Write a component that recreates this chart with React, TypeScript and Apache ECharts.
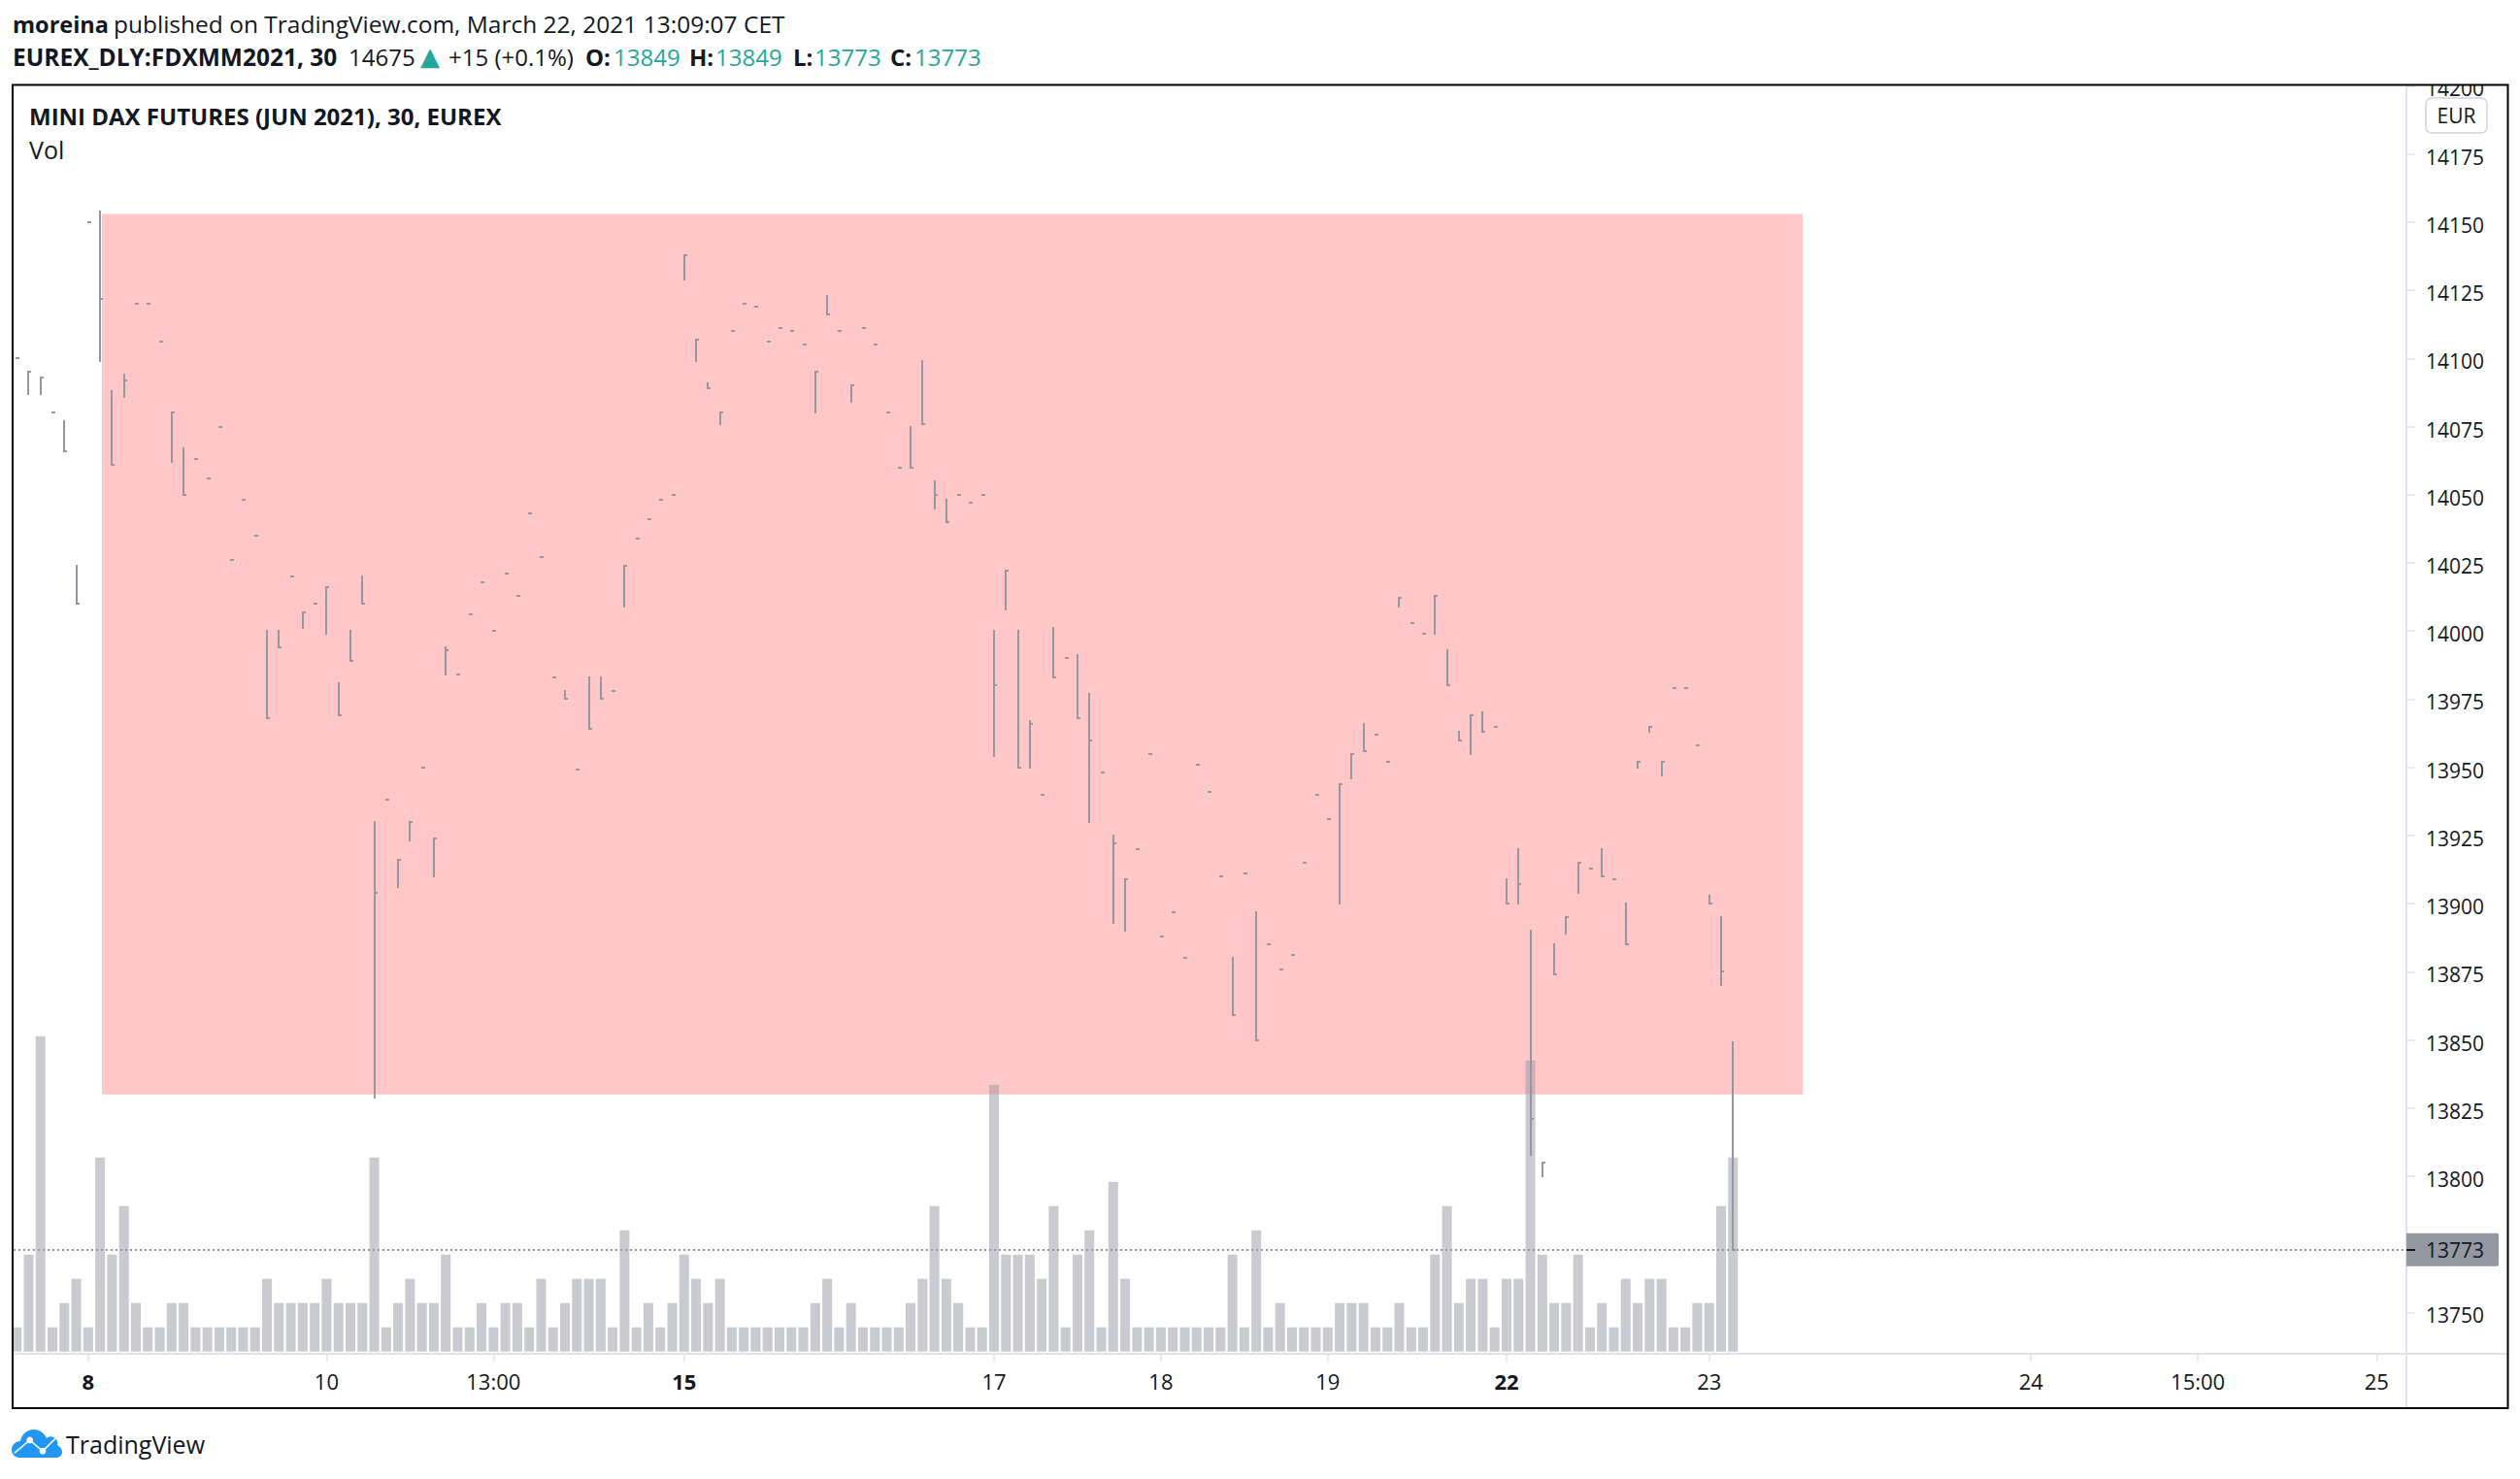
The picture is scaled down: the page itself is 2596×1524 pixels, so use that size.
import React, { useEffect, useRef } from "react";
import * as echarts from "echarts";

const barHigh = [14100,14095,14093,14080,14077,14024,14150,14154,14088,14094,14120,14120,14106,14080,14067,14063,14056,14075,14026,14048,14035,14000,14000,14020,14007,14010,14016,13981,14000,14020,13930,13938,13916,13930,13950,13924,13994,13984,14006,14018,14000,14021,14013,14043,14027,13983,13978,13949,13983,13983,13978,14024,14034,14041,14048,14050,14138,14107,14091,14080,14110,14120,14119,14106,14111,14110,14105,14095,14123,14110,14090,14111,14105,14080,14060,14075,14099,14055,14048,14050,14047,14050,14000,14022,14000,13967,13940,14001,13990,13991,13977,13948,13925,13909,13920,13955,13888,13897,13880,13951,13941,13910,13880,13911,13897,13885,13876,13881,13915,13940,13931,13944,13955,13966,13962,13952,14012,14003,13999,14013,13993,13963,13969,13970,13965,13909,13920,13890,13805,13885,13895,13915,13913,13920,13909,13900,13952,13965,13952,13979,13979,13958,13903,13895,13849];
const barLow = [14100,14087,14087,14080,14066,14010,14150,14099,14061,14086,14120,14120,14106,14062,14050,14063,14056,14075,14026,14048,14035,13968,13994,14020,14001,14010,13999,13969,13989,14010,13829,13938,13906,13923,13950,13910,13984,13984,14006,14018,14000,14021,14013,14043,14027,13983,13975,13949,13964,13975,13978,14009,14034,14041,14048,14050,14129,14099,14089,14076,14110,14120,14119,14106,14111,14110,14105,14080,14116,14110,14084,14111,14105,14080,14060,14060,14076,14045,14040,14050,14047,14050,13954,14008,13950,13950,13940,13983,13990,13968,13930,13948,13893,13890,13920,13955,13888,13897,13880,13951,13941,13910,13859,13911,13850,13885,13876,13881,13915,13940,13931,13900,13946,13956,13962,13952,14009,14003,13999,13999,13980,13960,13955,13963,13965,13900,13900,13808,13800,13874,13889,13904,13913,13910,13909,13885,13950,13963,13947,13979,13979,13958,13900,13870,13773];
const barClose = [14100,14095,14093,14080,14066,14010,14150,14122,14061,14092,14120,14120,14106,14080,14050,14063,14056,14075,14026,14048,14035,13968,13994,14020,14007,14010,14016,13969,13989,14010,13904,13938,13916,13930,13950,13924,13993,13984,14006,14018,14000,14021,14013,14043,14027,13983,13975,13949,13964,13975,13978,14024,14034,14041,14048,14050,14138,14107,14089,14080,14110,14120,14119,14106,14111,14110,14105,14095,14116,14110,14090,14111,14105,14080,14060,14060,14076,14050,14040,14050,14047,14050,13980,14022,13950,13966,13940,13983,13990,13968,13960,13948,13922,13909,13920,13955,13888,13897,13880,13951,13941,13910,13859,13911,13850,13885,13876,13881,13915,13940,13931,13944,13955,13956,13962,13952,14012,14003,13999,14013,13980,13960,13969,13963,13965,13900,13907,13821,13805,13874,13895,13915,13913,13910,13909,13885,13952,13965,13952,13979,13979,13958,13900,13875,13773];
const volumes = [1,4,13,1,2,3,1,8,4,6,2,1,1,2,2,1,1,1,1,1,1,3,2,2,2,2,3,2,2,2,8,1,2,3,2,2,4,1,1,2,1,2,2,1,3,1,2,3,3,3,1,5,1,2,1,2,4,3,2,3,1,1,1,1,1,1,1,2,3,1,2,1,1,1,1,2,3,6,3,2,1,1,11,4,4,4,3,6,1,4,5,1,7,3,1,1,1,1,1,1,1,1,4,1,5,1,2,1,1,1,1,2,2,2,1,1,2,1,1,4,6,2,3,3,1,3,3,12,4,2,2,4,1,2,1,3,2,3,3,1,1,2,2,6,8];
const priceTicks = [13750,13800,13825,13850,13875,13900,13925,13950,13975,14000,14025,14050,14075,14100,14125,14150,14175,14200];
const timeTickIndex = [6,26,40,56,82,96,110,125,142,169,183,198];
const timeTickLabels = ["8","10","13:00","15","17","18","19","22","23","24","15:00","25"];
const boldTimeLabels = ["8","15","22"];
const rangeBox = [[7.15,149.85,14153,13830]];

const FONT = "'Open Sans', sans-serif";
const INK = "#131722";
const GREY = "#9598A1";
const AXIS = "#E0E3EB";
const TEAL = "#26A69A";

echarts.graphic.registerShape("tvCloud", echarts.graphic.extendPath(
  "M8 29C3 29 0 25 0 21C0 16 4 12 9 12C10 5 16 0 23 0C29 0 34 4 36 9C38 7 41 7 43 8C47 10 48 13 47 16C50 18 52 20 52 23C52 27 49 29 45 29Z",
  {},
) as any);

function renderOhlc(_p: any, api: any) {
  const i = api.value(0);
  const [x, yH] = api.coord([i, api.value(1)]);
  const yL = api.coord([i, api.value(2)])[1];
  const yC = api.coord([i, api.value(3)])[1];
  const left = Math.round(x) - 1;
  const top = Math.round(yH) - 1;
  const h = Math.max(2, Math.round(yL) + 1 - top);
  const tickY = Math.min(Math.max(Math.round(yC) - 1, top), top + h - 2);
  const style = { fill: GREY };
  return {
    type: "group",
    children: [
      { type: "rect", shape: { x: left, y: top, width: 2, height: h }, style },
      { type: "rect", shape: { x: left, y: tickY, width: 4, height: 2 }, style },
    ],
  };
}

function renderBox(_p: any, api: any) {
  const a = api.coord([api.value(0), api.value(2)]);
  const b = api.coord([api.value(1), api.value(3)]);
  return { type: "rect", shape: { x: a[0], y: a[1], width: b[0] - a[0], height: b[1] - a[1] }, style: { fill: "#FFC7C8" } };
}

function label(text: string, x: number, y: number, fontSize: number, fill = INK, fontWeight: any = "normal", fontFamily = FONT) {
  return { type: "text", z: 106, x, y, style: { text, fontFamily, fontSize, fontWeight, fill, verticalAlign: "middle" } };
}

export default function App() {
  const ref = useRef<HTMLDivElement>(null);
  useEffect(() => {
    document.body.style.margin = "0";
    document.body.style.overflow = "hidden";
    document.body.style.background = "#fff";
    const chart = echarts.init(ref.current!, undefined, { renderer: "svg" });
    const last = barClose.length - 1;
    const xMin = -0.26, xMax = 200.5;
    chart.setOption({
      animation: false,
      backgroundColor: "#ffffff",
      textStyle: { fontFamily: FONT },
      grid: [
        { left: 14, right: 117, top: 88.4, bottom: 129 },
        { left: 14, right: 117, top: 1042.7, bottom: 131.3 },
      ],
      xAxis: [
        {
          type: "value", gridIndex: 0, min: xMin, max: xMax, splitLine: { show: false },
          axisLine: { show: true, onZero: false, lineStyle: { color: AXIS, width: 2 } },
          axisTick: { show: true, length: 8, lineStyle: { color: AXIS, width: 1.5 }, customValues: timeTickIndex },
          axisLabel: {
            show: true, margin: 17, fontFamily: FONT, fontSize: 22, color: INK,
            customValues: timeTickIndex,
            formatter: (v: number) => {
              const t = timeTickLabels[timeTickIndex.indexOf(v)] ?? "";
              return boldTimeLabels.includes(t) ? `{b|${t}}` : t;
            },
            rich: { b: { fontFamily: FONT, fontSize: 22, fontWeight: "bold", color: INK } },
          },
        },
        { type: "value", gridIndex: 1, min: xMin, max: xMax, show: false, splitLine: { show: false } },
      ],
      yAxis: [
        {
          type: "value", gridIndex: 0, position: "right", min: 13734.85, max: 14200, splitLine: { show: false },
          axisLine: { show: true, onZero: false, lineStyle: { color: AXIS, width: 2 } },
          axisTick: { show: true, length: 9, lineStyle: { color: AXIS, width: 1.5 }, customValues: priceTicks },
          axisLabel: { show: true, margin: 20, fontFamily: FONT, fontSize: 21, color: INK, verticalAlign: "top", lineHeight: 6, customValues: priceTicks, formatter: (v: number) => String(v) },
        },
        { type: "value", gridIndex: 1, min: 0, max: 14, show: false, splitLine: { show: false } },
      ],
      series: [
        { type: "custom", name: "Range", xAxisIndex: 0, yAxisIndex: 0, z: 1, silent: true, renderItem: renderBox, encode: { x: [0, 1], y: [2, 3] }, data: rangeBox },
        { type: "bar", name: "Vol", xAxisIndex: 1, yAxisIndex: 1, z: 2, silent: true, barWidth: 10, itemStyle: { color: "rgba(149,152,161,0.5)" }, data: volumes.map((v, i) => [i, v]) },
        {
          type: "custom", name: "FDXMM2021", xAxisIndex: 0, yAxisIndex: 0, z: 3, silent: true, clip: false, renderItem: renderOhlc,
          encode: { x: 0, y: [1, 2, 3] },
          data: barHigh.map((h, i) => [i, h, barLow[i], barClose[i]]),
          markLine: {
            silent: true, symbol: "none", animation: false,
            lineStyle: { color: GREY, width: 2, type: [2, 3], opacity: 1 },
            label: {
              show: true, position: "end", distance: 0, formatter: () => String(barClose[last]),
              fontFamily: FONT, fontSize: 21, color: INK, backgroundColor: GREY,
              padding: [7, 15, 6, 20], borderRadius: [0, 2, 2, 0],
            },
            data: [{ yAxis: barClose[last] }],
          },
        },
      ],
      graphic: [
        { type: "rect", z: 100, shape: { x: 2480, y: 60, width: 102, height: 27 }, style: { fill: "#fff" } },
        { type: "line", z: 100, shape: { x1: 2479, y1: 1395, x2: 2479, y2: 1451 }, style: { stroke: AXIS, lineWidth: 2 } },
        { type: "line", z: 100, shape: { x1: 2479, y1: 1395, x2: 2583, y2: 1395 }, style: { stroke: AXIS, lineWidth: 2 } },
        { type: "line", z: 110, shape: { x1: 2479, y1: 1288, x2: 2488, y2: 1288 }, style: { stroke: INK, lineWidth: 2 } },
        { type: "rect", z: 101, shape: { x: 2499, y: 101, width: 63, height: 36, r: 6 }, style: { fill: "#fff", stroke: "#D1D4DC", lineWidth: 1.5 } },
        { type: "text", z: 102, x: 2530.5, y: 118.5, style: { text: "EUR", fontFamily: FONT, fontSize: 21, fill: INK, align: "center", verticalAlign: "middle" } },
        { type: "rect", z: 105, shape: { x: 13, y: 87.5, width: 2570.5, height: 1363.5 }, style: { fill: "none", stroke: "#000", lineWidth: 2 } },
        label("moreina", 13, 24.5, 23.5, INK, "bold"),
        label("published on TradingView.com, March 22, 2021 13:09:07 CET", 117, 24.5, 24.5),
        label("EUREX_DLY:FDXMM2021, 30", 13, 58, 24.5, INK, "bold"),
        label("14675", 359, 58, 24),
        label("▲", 433, 58, 26, TEAL, "normal", "'DejaVu Sans'"),
        label("+15 (+0.1%)", 462, 58, 24),
        label("O:", 603, 58, 24, INK, "bold"),
        label("13849", 632, 58, 24, TEAL),
        label("H:", 710, 58, 24, INK, "bold"),
        label("13849", 737, 58, 24, TEAL),
        label("L:", 817, 58, 24, INK, "bold"),
        label("13773", 839, 58, 24, TEAL),
        label("C:", 917, 58, 24, INK, "bold"),
        label("13773", 942, 58, 24, TEAL),
        label("MINI DAX FUTURES (JUN 2021), 30, EUREX", 30, 119, 24, INK, "bold"),
        label("Vol", 30, 154, 25),
        {
          type: "group", x: 12, y: 1473, z: 106,
          children: [
            { type: "tvCloud", style: { fill: "#2196F3" } },
            { type: "polyline", shape: { points: [[2.7, 24.3], [18.7, 11], [32, 22.3], [46, 8.3]] }, style: { stroke: "#fff", lineWidth: 1.6, fill: "none" } },
            { type: "circle", shape: { cx: 18.7, cy: 11, r: 3.4 }, style: { fill: "#fff" } },
            { type: "circle", shape: { cx: 32, cy: 22.3, r: 3.4 }, style: { fill: "#fff" } },
          ],
        },
        label("TradingView", 68, 1487.5, 25),
      ],
    });
    return () => chart.dispose();
  }, []);
  return <div ref={ref} style={{ width: 2596, height: 1524 }} />;
}
